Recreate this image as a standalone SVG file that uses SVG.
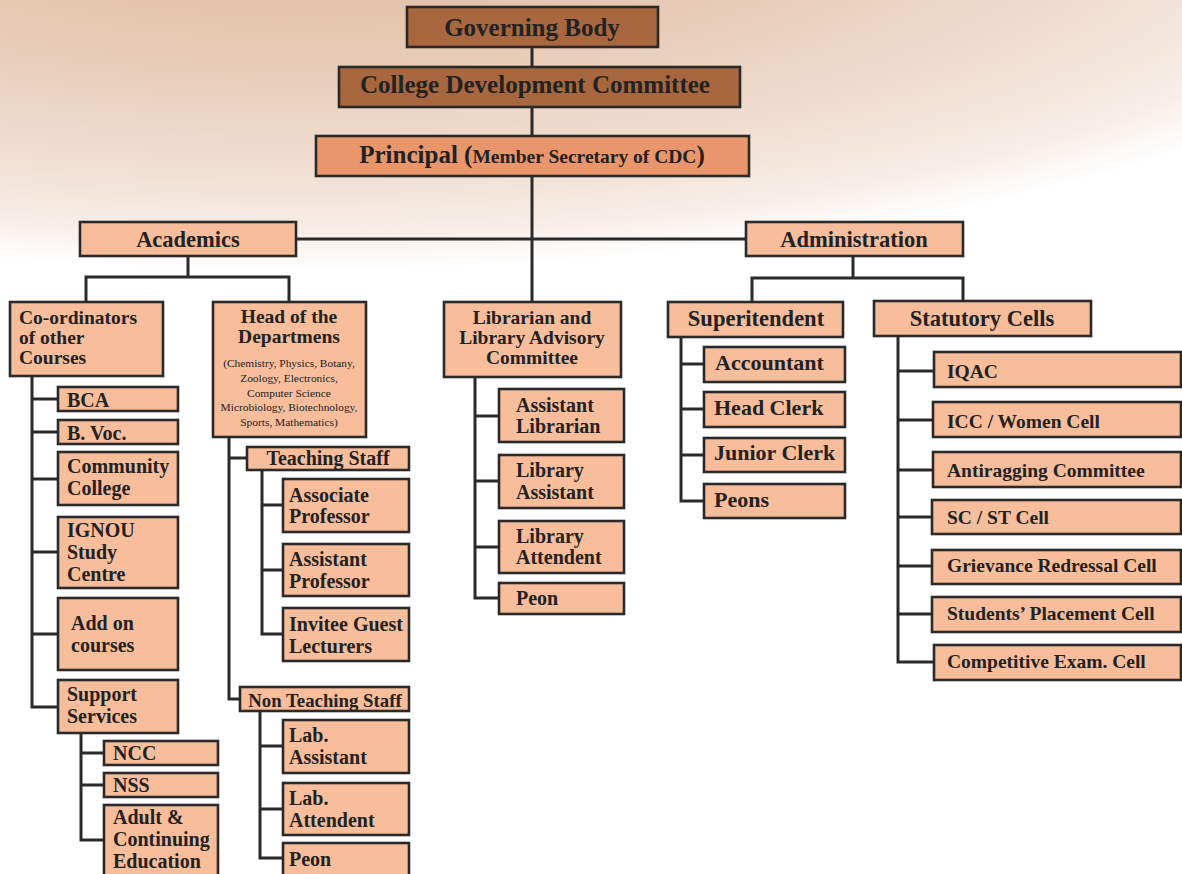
<svg xmlns="http://www.w3.org/2000/svg" width="1182" height="874" viewBox="0 0 1182 874">
<defs>
<radialGradient id="bg" gradientUnits="userSpaceOnUse" cx="0" cy="0" r="1" gradientTransform="translate(300 -100) scale(1200 370)">
<stop offset="0" stop-color="#e0bda2"/>
<stop offset="0.3" stop-color="#e4c4ad"/>
<stop offset="0.5" stop-color="#e9cfbc"/>
<stop offset="0.75" stop-color="#f1e0d4"/>
<stop offset="0.9" stop-color="#f7eee8"/>
<stop offset="1" stop-color="#ffffff"/>
</radialGradient>
<style>
.b{fill:#f8bd9b;stroke:#2a2a2a;stroke-width:2.6}
.d{fill:#a8673f;stroke:#2a2a2a;stroke-width:2.6}
.p{fill:#e9966c;stroke:#2a2a2a;stroke-width:2.6}
text{font-family:"Liberation Serif","Times New Roman",serif;font-weight:bold;fill:#222222}
.m{text-anchor:middle}
.s{font-weight:normal;font-size:11.4px}
.h1{font-size:25px}
.h2{font-size:22.5px}
.h3{font-size:22px}
.t{font-size:20px}
.c{font-size:19.5px}
#connectors path{stroke:#2a2a2a;stroke-width:3;fill:none}
</style>
</defs>
<rect x="0" y="0" width="1182" height="874" fill="url(#bg)"/>

<g id="connectors">
<path d="M532 47V67M532 107V136M532 176V302M296 239H746"/>
<path d="M188 256V277M86 302V277H289V302"/>
<path d="M32 376V707H58M32 399H58M32 432H58M32 479H58M32 552H58M32 634H58"/>
<path d="M81 733V840H104M81 753H104M81 785H104"/>
<path d="M229 437V699H240M229 458H247"/>
<path d="M262 470V634H283M262 505H283M262 570H283"/>
<path d="M260 711V858H283M260 746H283M260 809H283"/>
<path d="M475 377V598H499M475 416H499M475 481H499M475 547H499"/>
<path d="M853 256V278M752 302V278H963V301"/>
<path d="M681 337V501H704M681 364H704M681 409H704M681 455H704"/>
<path d="M898 336V662H934M898 371H934M898 420H933M898 470H933M898 517H932M898 566H932M898 614H932"/>
</g>

<g id="governing-body"><rect class="d" x="407" y="7" width="251" height="40"/><text class="h1 m" x="532" y="36">Governing Body</text></g>
<g id="cdc"><rect class="d" x="339" y="67" width="401" height="40"/><text class="h1 m" x="535" y="93">College Development Committee</text></g>
<g id="principal"><rect class="p" x="316" y="136" width="433" height="40"/><text class="h1 m" x="532" y="163">Principal (<tspan font-size="19.5px">Member Secretary of CDC</tspan>)</text></g>

<g id="academics"><rect class="b" x="80" y="222" width="216" height="34"/><text class="h2 m" x="188" y="247">Academics</text></g>
<g id="administration"><rect class="b" x="746" y="222" width="217" height="34"/><text class="h2 m" x="854" y="247">Administration</text></g>

<g id="coordinators"><rect class="b" x="10" y="302" width="153" height="74"/><text class="c" x="19" y="324">Co-ordinators</text><text class="c" x="19" y="344">of other</text><text class="c" x="19" y="364">Courses</text></g>
<g id="bca"><rect class="b" x="58" y="387" width="120" height="24"/><text class="t" x="67" y="407">BCA</text></g>
<g id="bvoc"><rect class="b" x="58" y="420" width="120" height="24"/><text class="t" x="67" y="440">B. Voc.</text></g>
<g id="community-college"><rect class="b" x="58" y="452" width="120" height="53"/><text class="t" x="67" y="473">Community</text><text class="t" x="67" y="495">College</text></g>
<g id="ignou"><rect class="b" x="58" y="517" width="120" height="71"/><text class="t" x="67" y="537">IGNOU</text><text class="t" x="67" y="559">Study</text><text class="t" x="67" y="581">Centre</text></g>
<g id="add-on"><rect class="b" x="58" y="598" width="120" height="72"/><text class="t" x="71" y="630">Add on</text><text class="t" x="71" y="652">courses</text></g>
<g id="support"><rect class="b" x="58" y="680" width="120" height="53"/><text class="t" x="67" y="701">Support</text><text class="t" x="67" y="723">Services</text></g>
<g id="ncc"><rect class="b" x="104" y="741" width="114" height="24"/><text class="t" x="113" y="760">NCC</text></g>
<g id="nss"><rect class="b" x="104" y="773" width="114" height="24"/><text class="t" x="113" y="792">NSS</text></g>
<g id="adult"><rect class="b" x="104" y="805" width="114" height="80"/><text class="t" x="113" y="824">Adult &amp;</text><text class="t" x="113" y="846">Continuing</text><text class="t" x="113" y="868">Education</text></g>

<g id="hod"><rect class="b" x="213" y="302" width="153" height="135"/><text class="c m" x="289" y="323">Head of the</text><text class="c m" x="289" y="343">Departmens</text>
<text class="s m" x="289" y="367">(Chemistry, Physics, Botany,</text><text class="s m" x="289" y="382">Zoology, Electronics,</text><text class="s m" x="289" y="397">Computer Science</text><text class="s m" x="289" y="411">Microbiology, Biotechnology,</text><text class="s m" x="289" y="426">Sports, Mathematics)</text></g>
<g id="teaching"><rect class="b" x="247" y="447" width="162" height="23"/><text class="t m" x="328" y="465">Teaching Staff</text></g>
<g id="associate"><rect class="b" x="283" y="479" width="126" height="53"/><text class="t" x="289" y="502">Associate</text><text class="t" x="289" y="523">Professor</text></g>
<g id="assistant-prof"><rect class="b" x="283" y="544" width="126" height="52"/><text class="t" x="289" y="566">Assistant</text><text class="t" x="289" y="588">Professor</text></g>
<g id="invitee"><rect class="b" x="283" y="608" width="126" height="53"/><text class="t" x="289" y="631">Invitee Guest</text><text class="t" x="289" y="653">Lecturers</text></g>
<g id="non-teaching"><rect class="b" x="240" y="687" width="169" height="24"/><text class="m" font-size="18.8px" x="325" y="707">Non Teaching Staff</text></g>
<g id="lab-assistant"><rect class="b" x="283" y="720" width="126" height="53"/><text class="t" x="289" y="742">Lab.</text><text class="t" x="289" y="764">Assistant</text></g>
<g id="lab-attendent"><rect class="b" x="283" y="783" width="126" height="52"/><text class="t" x="289" y="805">Lab.</text><text class="t" x="289" y="827">Attendent</text></g>
<g id="peon-nt"><rect class="b" x="283" y="843" width="126" height="45"/><text class="t" x="289" y="866">Peon</text></g>

<g id="librarian"><rect class="b" x="444" y="302" width="177" height="75"/><text class="c m" x="532" y="324">Librarian and</text><text class="c m" x="532" y="344">Library Advisory</text><text class="c m" x="532" y="364">Committee</text></g>
<g id="asst-librarian"><rect class="b" x="499" y="389" width="125" height="53"/><text class="t" x="516" y="412">Assistant</text><text class="t" x="516" y="433">Librarian</text></g>
<g id="library-assistant"><rect class="b" x="499" y="455" width="125" height="53"/><text class="t" x="516" y="477">Library</text><text class="t" x="516" y="499">Assistant</text></g>
<g id="library-attendent"><rect class="b" x="499" y="521" width="125" height="52"/><text class="t" x="516" y="543">Library</text><text class="t" x="516" y="564">Attendent</text></g>
<g id="peon-lib"><rect class="b" x="499" y="583" width="125" height="31"/><text class="t" x="516" y="605">Peon</text></g>

<g id="superitendent"><rect class="b" x="668" y="302" width="175" height="35"/><text class="h2 m" x="756" y="326">Superitendent</text></g>
<g id="accountant"><rect class="b" x="704" y="347" width="141" height="35"/><text class="h3" x="715" y="370">Accountant</text></g>
<g id="head-clerk"><rect class="b" x="704" y="392" width="141" height="35"/><text class="h3" x="714" y="415">Head Clerk</text></g>
<g id="junior-clerk"><rect class="b" x="704" y="438" width="141" height="34"/><text class="h3" x="714" y="460">Junior Clerk</text></g>
<g id="peons"><rect class="b" x="704" y="484" width="141" height="34"/><text class="h3" x="714" y="507">Peons</text></g>

<g id="statutory"><rect class="b" x="874" y="301" width="217" height="35"/><text class="h2 m" x="982" y="326">Statutory Cells</text></g>
<g id="iqac"><rect class="b" x="934" y="352" width="247" height="35"/><text class="c" x="947" y="378">IQAC</text></g>
<g id="icc"><rect class="b" x="933" y="402" width="248" height="35"/><text class="c" x="947" y="428">ICC / Women Cell</text></g>
<g id="antiragging"><rect class="b" x="933" y="452" width="248" height="35"/><text class="c" x="947" y="477">Antiragging Committee</text></g>
<g id="scst"><rect class="b" x="932" y="500" width="249" height="34"/><text class="c" x="947" y="524">SC / ST Cell</text></g>
<g id="grievance"><rect class="b" x="932" y="550" width="249" height="34"/><text class="c" x="947" y="572">Grievance Redressal Cell</text></g>
<g id="placement"><rect class="b" x="932" y="597" width="249" height="35"/><text class="c" x="947" y="620">Students’ Placement Cell</text></g>
<g id="competitive"><rect class="b" x="934" y="645" width="247" height="35"/><text class="c" x="947" y="668">Competitive Exam. Cell</text></g>
</svg>
